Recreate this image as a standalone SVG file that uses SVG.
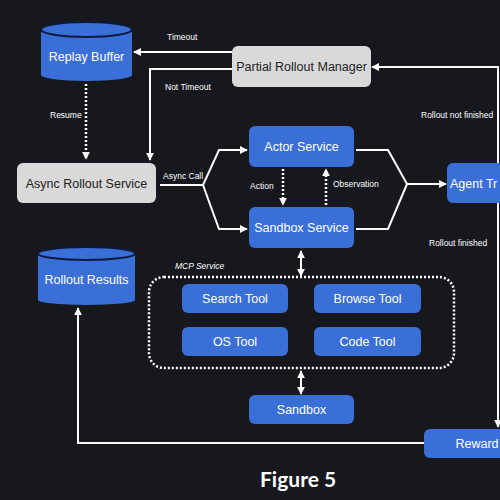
<svg xmlns="http://www.w3.org/2000/svg" width="500" height="500" viewBox="0 0 500 500">
<defs>
<marker id="ah" viewBox="0 0 10 10" refX="9" refY="5" markerWidth="8" markerHeight="8" markerUnits="userSpaceOnUse" orient="auto-start-reverse">
<path d="M0,0 L10,5 L0,10 Z" fill="#ffffff"/>
</marker>
<style>
.blue{fill:#3b6fd8}
.gray{fill:#d9d9d9}
.edge{fill:none;stroke:#ffffff;stroke-width:2}
.dot{fill:none;stroke:#ffffff;stroke-width:2.5;stroke-dasharray:2 2}
.wt{font-family:"Liberation Sans",Arial,sans-serif;font-size:12.5px;fill:#ffffff;text-anchor:middle}
.dt{font-family:"Liberation Sans",Arial,sans-serif;font-size:12.5px;fill:#222222;text-anchor:middle}
.lb{font-family:"Liberation Sans",Arial,sans-serif;font-size:8.5px;fill:#ffffff}
.cylTop{fill:#3b6fd8;stroke:#0e1a3c;stroke-width:2}
</style>
</defs>
<rect width="500" height="500" fill="#16181d"/>

<g id="connectors">
<line class="edge" x1="232" y1="52" x2="134" y2="52" marker-end="url(#ah)"/>
<polyline class="edge" points="232,69 150,69 150,160" marker-end="url(#ah)"/>
<line class="dot" x1="86" y1="84" x2="86" y2="159" marker-end="url(#ah)"/>
<polyline class="edge" points="160,185 203,185 219,150 247,150" marker-end="url(#ah)"/>
<polyline class="edge" points="203,185 219,229 247,229" marker-end="url(#ah)"/>
<line class="dot" x1="283" y1="169" x2="283" y2="205" marker-end="url(#ah)"/>
<line class="dot" x1="326" y1="205" x2="326" y2="169" marker-end="url(#ah)"/>
<polyline class="edge" points="356,150 388,150 407,184 446,184" marker-end="url(#ah)"/>
<polyline class="edge" points="356,229 388,229 407,184"/>
<polyline class="edge" points="498,67 372,67" marker-end="url(#ah)"/>
<line class="edge" x1="498" y1="66" x2="498" y2="427" marker-end="url(#ah)"/>
<polyline class="edge" points="424,443 78,443 78,308" marker-end="url(#ah)"/>
<line class="edge" x1="301" y1="251" x2="301" y2="276" marker-start="url(#ah)" marker-end="url(#ah)"/>
<line class="edge" x1="301" y1="371" x2="301" y2="394" marker-start="url(#ah)" marker-end="url(#ah)"/>
<text class="lb" x="167" y="40">Timeout</text>
<text class="lb" x="165" y="90">Not Timeout</text>
<text class="lb" x="50" y="118">Resume</text>
<text class="lb" x="163" y="179">Async Call</text>
<text class="lb" x="250" y="189">Action</text>
<text class="lb" x="333" y="187">Observation</text>
<text class="lb" x="421" y="118">Rollout not finished</text>
<text class="lb" x="429" y="246">Rollout finished</text>
</g>

<g id="replay-buffer">
<path class="blue" d="M41,29.5 L41,75 A45.5,6 0 0 0 132,75 L132,29.5 Z"/>
<ellipse class="cylTop" cx="86.5" cy="29.5" rx="45.5" ry="7.5"/>
<text class="wt" x="86.5" y="61">Replay Buffer</text>
</g>

<g id="partial-rollout-manager">
<rect class="gray" x="232" y="46" width="139" height="41" rx="6"/>
<text class="dt" x="301.5" y="71">Partial Rollout Manager</text>
</g>

<g id="async-rollout-service">
<rect class="gray" x="17" y="163" width="139" height="40" rx="6"/>
<text class="dt" x="86.5" y="188">Async Rollout Service</text>
</g>

<g id="actor-service">
<rect class="blue" x="249" y="126" width="105" height="41" rx="6"/>
<text class="wt" x="301.5" y="151">Actor Service</text>
</g>

<g id="sandbox-service">
<rect class="blue" x="249" y="207" width="105" height="41" rx="6"/>
<text class="wt" x="301.5" y="232">Sandbox Service</text>
</g>

<g id="agent-trajectory">
<rect class="blue" x="447" y="163" width="70" height="40" rx="6"/>
<text class="wt" x="450" y="188" style="text-anchor:start">Agent Tr</text>
</g>

<g id="rollout-results">
<path class="blue" d="M38,253.5 L38,300 A48.5,5 0 0 0 135,300 L135,253.5 Z"/>
<ellipse class="cylTop" cx="86.5" cy="253.5" rx="48.5" ry="6.5"/>
<text class="wt" x="86.5" y="284">Rollout Results</text>
</g>

<g id="mcp-service">
<rect class="dot" x="149" y="277" width="305" height="91" rx="15"/>
<text class="lb" x="175" y="269" style="font-style:italic">MCP Service</text>
</g>

<g id="search-tool">
<rect class="blue" x="182" y="284" width="106" height="29" rx="6"/>
<text class="wt" x="235" y="303">Search Tool</text>
</g>

<g id="browse-tool">
<rect class="blue" x="314" y="284" width="107" height="29" rx="6"/>
<text class="wt" x="367.5" y="303">Browse Tool</text>
</g>

<g id="os-tool">
<rect class="blue" x="182" y="327" width="106" height="29" rx="6"/>
<text class="wt" x="235" y="346">OS Tool</text>
</g>

<g id="code-tool">
<rect class="blue" x="314" y="327" width="107" height="29" rx="6"/>
<text class="wt" x="367.5" y="346">Code Tool</text>
</g>

<g id="sandbox">
<rect class="blue" x="249" y="395" width="105" height="29" rx="6"/>
<text class="wt" x="301.5" y="414">Sandbox</text>
</g>

<g id="reward">
<rect class="blue" x="424" y="429" width="90" height="29" rx="6"/>
<text class="wt" x="477" y="448">Reward</text>
</g>

<text x="260" y="487" style="font-family:Lato,'Liberation Sans',sans-serif;font-weight:bold;font-size:21px;fill:#ffffff">Figure 5</text>
</svg>
